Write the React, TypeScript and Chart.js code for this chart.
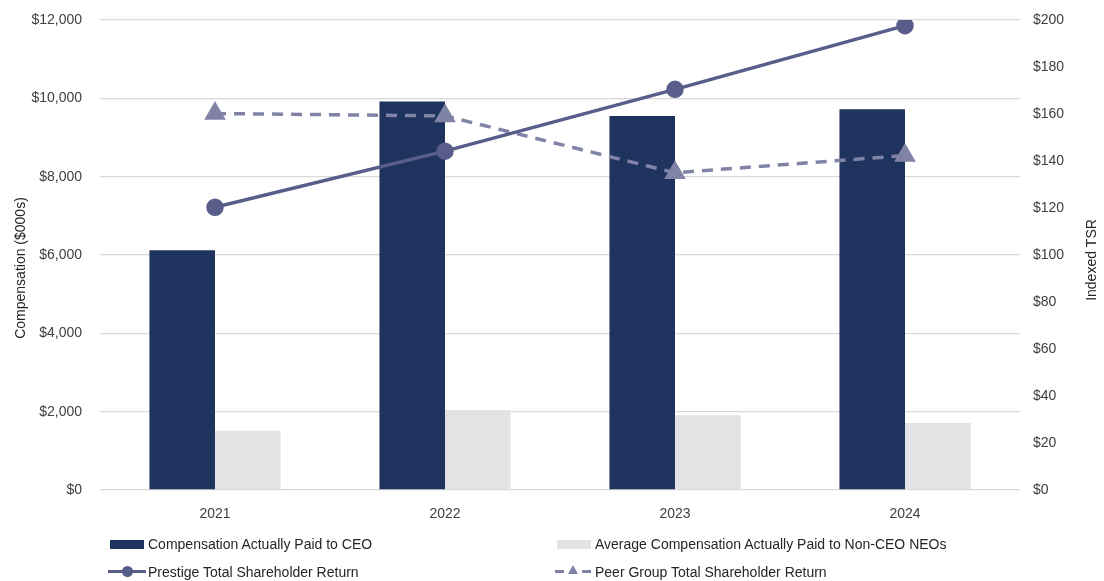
import React, { useEffect, useRef } from "react";
import { Chart, registerables } from "chart.js";

Chart.register(...registerables);

const years = ["2021", "2022", "2023", "2024"];
const ceoPay = [6120, 9920, 9550, 9720];
const neoPay = [1510, 2040, 1910, 1710];
const prestigeTSR = [120.3, 144.2, 170.5, 197.6];
const peerTSR = [160.2, 159.2, 135.0, 142.3];

const ceoLabel = "Compensation Actually Paid to CEO";
const neoLabel = "Average Compensation Actually Paid to Non-CEO NEOs";
const prestigeLabel = "Prestige Total Shareholder Return";
const peerLabel = "Peer Group Total Shareholder Return";
const leftTitle = "Compensation ($000s)";
const rightTitle = "Indexed TSR";

const NAVY = "#1E345E";
const GREY = "#E3E3E5";
const PRESTIGE = "#585D89";
const PEER = "#8183A6";
const FONT = "'Liberation Sans', Arial, sans-serif";

const axisTitles = {
  id: "axisTitles",
  afterDraw(chart: any) {
    const { ctx } = chart;
    ctx.save();
    ctx.fillStyle = "#262626";
    ctx.font = "14px " + FONT;
    ctx.textAlign = "center";
    ctx.textBaseline = "middle";
    ctx.translate(21, 268);
    ctx.rotate(-Math.PI / 2);
    ctx.fillText(leftTitle, 0, 0);
    ctx.restore();
    ctx.save();
    ctx.fillStyle = "#262626";
    ctx.font = "14px " + FONT;
    ctx.textAlign = "center";
    ctx.textBaseline = "middle";
    ctx.translate(1092, 260);
    ctx.rotate(-Math.PI / 2);
    ctx.fillText(rightTitle, 0, 0);
    ctx.restore();
  },
};

export default function App() {
  const ref = useRef<HTMLCanvasElement | null>(null);

  useEffect(() => {
    document.body.style.margin = "0";
    const ctx = ref.current!.getContext("2d")!;
    const chart = new Chart(ctx, {
      type: "bar",
      data: {
        labels: years,
        datasets: [
          {
            type: "line",
            label: prestigeLabel,
            data: prestigeTSR,
            yAxisID: "y2",
            borderColor: PRESTIGE,
            backgroundColor: PRESTIGE,
            borderWidth: 3.5,
            pointStyle: "circle",
            pointRadius: 7,
            pointBackgroundColor: PRESTIGE,
            pointBorderColor: PRESTIGE,
            order: 0,
          },
          {
            type: "line",
            label: peerLabel,
            data: peerTSR,
            yAxisID: "y2",
            borderColor: PEER,
            backgroundColor: PEER,
            borderWidth: 3.5,
            borderDash: [11, 8],
            pointStyle: "triangle",
            pointRadius: 9,
            pointBackgroundColor: PEER,
            pointBorderColor: PEER,
            order: 0,
          },
          {
            type: "bar",
            label: ceoLabel,
            data: ceoPay,
            yAxisID: "y",
            backgroundColor: NAVY,
            categoryPercentage: 0.57,
            barPercentage: 1,
            order: 1,
          },
          {
            type: "bar",
            label: neoLabel,
            data: neoPay,
            yAxisID: "y",
            backgroundColor: GREY,
            categoryPercentage: 0.57,
            barPercentage: 1,
            order: 1,
          },
        ],
      },
      options: {
        animation: false,
        responsive: false,
        maintainAspectRatio: false,
        layout: { padding: { top: 20, left: 0, right: 0, bottom: 0 } },
        plugins: { legend: { display: false }, tooltip: { enabled: false } },
        scales: {
          x: {
            grid: { display: false },
            border: { display: false },
            ticks: { color: "#404040", font: { family: FONT, size: 14 }, padding: 8 },
            afterFit: (s: any) => {
              s.height = 91;
              s.paddingLeft = 0;
              s.paddingRight = 0;
            },
          },
          y: {
            position: "left",
            min: 0,
            max: 12000,
            ticks: {
              stepSize: 2000,
              color: "#404040",
              font: { family: FONT, size: 14 },
              padding: 18,
              callback: (v: any) => "$" + Number(v).toLocaleString("en-US"),
            },
            grid: { color: "#D9D9D9", lineWidth: 1.3, drawTicks: false },
            border: { display: false },
            afterFit: (s: any) => {
              s.width = 100;
              s.paddingTop = 0;
              s.paddingBottom = 0;
            },
          },
          y2: {
            position: "right",
            min: 0,
            max: 200,
            ticks: {
              stepSize: 20,
              color: "#404040",
              font: { family: FONT, size: 14 },
              padding: 13,
              callback: (v: any) => "$" + v,
            },
            grid: { drawOnChartArea: false, drawTicks: false },
            border: { display: false },
            afterFit: (s: any) => {
              s.width = 84;
              s.paddingTop = 0;
              s.paddingBottom = 0;
            },
          },
        },
      },
      plugins: [axisTitles],
    });
    return () => chart.destroy();
  }, []);

  const textStyle: React.CSSProperties = {
    position: "absolute",
    fontFamily: FONT,
    fontSize: 14,
    color: "#262626",
    whiteSpace: "nowrap",
    lineHeight: "16px",
  };

  return (
    <div style={{ position: "fixed", left: 0, top: 0, width: 1104, height: 581, background: "#fff" }}>
      <canvas ref={ref} width={1104} height={581} style={{ display: "block" }} />
      <div style={{ position: "absolute", left: 110, top: 540, width: 34, height: 9, background: NAVY }} />
      <div style={{ ...textStyle, left: 148, top: 536 }}>{ceoLabel}</div>
      <div style={{ position: "absolute", left: 557, top: 540, width: 34, height: 9, background: GREY }} />
      <div style={{ ...textStyle, left: 595, top: 536 }}>{neoLabel}</div>
      <div style={{ position: "absolute", left: 108, top: 570, width: 38, height: 3, background: PRESTIGE }} />
      <div style={{ position: "absolute", left: 122, top: 566, width: 11, height: 11, borderRadius: 6, background: PRESTIGE }} />
      <div style={{ ...textStyle, left: 148, top: 564 }}>{prestigeLabel}</div>
      <div style={{ position: "absolute", left: 555, top: 570, width: 9, height: 3, background: PEER }} />
      <div style={{ position: "absolute", left: 582, top: 570, width: 9, height: 3, background: PEER }} />
      <div
        style={{
          position: "absolute",
          left: 568,
          top: 565,
          width: 0,
          height: 0,
          borderLeft: "5px solid transparent",
          borderRight: "5px solid transparent",
          borderBottom: "9px solid " + PEER,
        }}
      />
      <div style={{ ...textStyle, left: 595, top: 564 }}>{peerLabel}</div>
    </div>
  );
}
